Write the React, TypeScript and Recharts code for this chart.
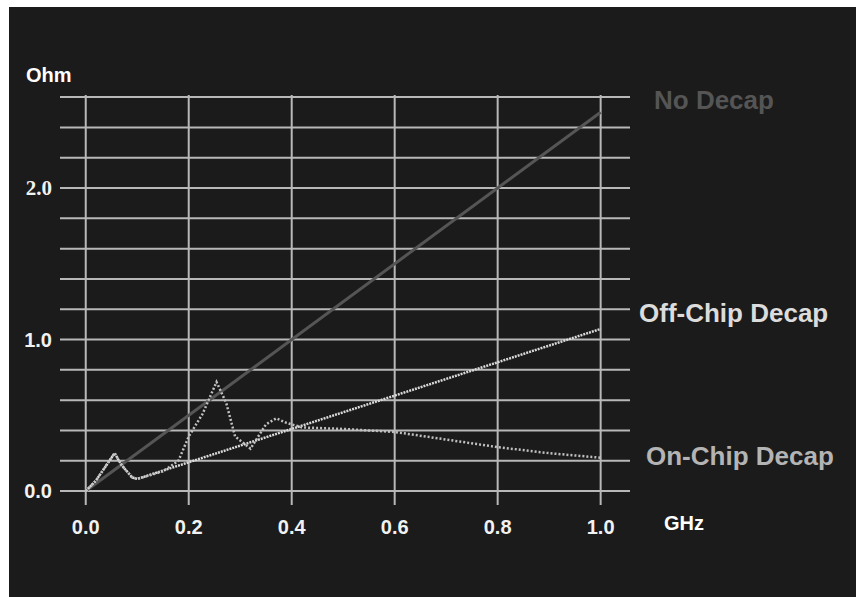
import React from 'react';
import { LineChart, Line, XAxis, YAxis, ReferenceLine } from 'recharts';

// Frequency (GHz) / impedance (Ohm) readings
const noDecapX = [0, 1.0];
const noDecapY = [0, 2.5];

const offChipX = [0, 0.02, 0.04, 0.056, 0.07, 0.09, 0.1, 0.2, 0.4, 0.6, 0.8, 1.0];
const offChipY = [0, 0.07, 0.17, 0.25, 0.17, 0.09, 0.08, 0.19, 0.41, 0.63, 0.85, 1.07];

const onChipX = [0, 0.02, 0.04, 0.056, 0.07, 0.09, 0.1, 0.15, 0.18, 0.2, 0.227, 0.254, 0.273, 0.29, 0.32, 0.35, 0.37, 0.39, 0.42, 0.5, 0.6, 0.7, 0.8, 0.9, 1.0];
const onChipY = [0, 0.07, 0.17, 0.25, 0.17, 0.09, 0.08, 0.13, 0.2, 0.36, 0.51, 0.72, 0.58, 0.36, 0.28, 0.44, 0.48, 0.45, 0.42, 0.41, 0.39, 0.34, 0.29, 0.25, 0.22];

const xTicks = [0, 0.2, 0.4, 0.6, 0.8, 1.0];
const xTickLabels = ['0.0', '0.2', '0.4', '0.6', '0.8', '1.0'];
const yTicks = [0, 0.2, 0.4, 0.6, 0.8, 1.0, 1.2, 1.4, 1.6, 1.8, 2.0, 2.2, 2.4, 2.6];
const yLabelValues = [0, 1, 2];
const yLabelTexts = ['0.0', '1.0', '2.0'];

const seriesNames = ['No Decap', 'Off-Chip Decap', 'On-Chip Decap'];

const toRows = (xs: number[], ys: number[]) => xs.map((x, i) => ({ x, y: ys[i] }));

const noDecapData = toRows(noDecapX, noDecapY);
const offChipData = toRows(offChipX, offChipY);
const onChipData = toRows(onChipX, onChipY);

const SANS = '"Liberation Sans", Arial, Helvetica, sans-serif';
const SERIF = '"Liberation Serif", "Times New Roman", serif';
const GRID = '#b8b8b8';

const XTick = (props: any) => {
  const { x, y, payload } = props;
  const idx = xTicks.findIndex((t) => Math.abs(t - payload.value) < 1e-6);
  return (
    <text x={x} y={y} dy="0.35em" textAnchor="middle" fill="#f2f2f2" fontFamily={SANS} fontWeight="bold" fontSize={20}>
      {idx >= 0 ? xTickLabels[idx] : ''}
    </text>
  );
};

const YTick = (props: any) => {
  const { x, y, payload } = props;
  const idx = yLabelValues.findIndex((t) => Math.abs(t - payload.value) < 1e-6);
  if (idx < 0) return <g />;
  const serif = yLabelValues[idx] === 2;
  return (
    <text x={x} y={y} dy="0.35em" textAnchor="end" fill="#f2f2f2" fontFamily={serif ? SERIF : SANS} fontWeight="bold" fontSize={serif ? 21 : 20}>
      {yLabelTexts[idx]}
    </text>
  );
};

export default function App() {
  return (
    <div style={{ position: 'absolute', left: 9, top: 7, width: 847, height: 590, background: '#1b1b1b' }}>
      <LineChart width={847} height={590} margin={{ top: 88, right: 226, bottom: 52, left: 0 }}>
        <XAxis
          type="number"
          dataKey="x"
          domain={[-0.05, 1.057]}
          ticks={xTicks}
          interval={0}
          allowDataOverflow
          axisLine={false}
          tickLine={false}
          tickSize={0}
          tickMargin={22}
          height={40}
          tick={<XTick />}
        />
        <YAxis
          type="number"
          domain={[-0.092, 2.614]}
          ticks={yTicks}
          interval={0}
          allowDataOverflow
          axisLine={false}
          tickLine={false}
          tickSize={0}
          tickMargin={8}
          width={51}
          tick={<YTick />}
        />
        {yTicks.map((t) => (
          <ReferenceLine key={'h' + t} y={t} stroke={GRID} strokeWidth={2} />
        ))}
        {xTicks.map((t) => (
          <ReferenceLine key={'v' + t} x={t} stroke={GRID} strokeWidth={2} />
        ))}
        <Line data={noDecapData} dataKey="y" name={seriesNames[0]} type="linear" stroke="#555555" strokeWidth={3} dot={false} isAnimationActive={false} />
        <Line data={offChipData} dataKey="y" name={seriesNames[1]} type="linear" stroke="#dadada" strokeWidth={2.5} strokeDasharray="2 1" dot={false} isAnimationActive={false} />
        <Line data={onChipData} dataKey="y" name={seriesNames[2]} type="linear" stroke="#c0c0c0" strokeWidth={2.5} strokeDasharray="2 2" dot={false} isAnimationActive={false} />
      </LineChart>
      <svg width={847} height={590} style={{ position: 'absolute', left: 0, top: 0, pointerEvents: 'none' }}>
        <text x={17} y={75} fill="#ffffff" fontFamily={SANS} fontWeight="bold" fontSize={20}>Ohm</text>
        <text x={655} y={523} fill="#ffffff" fontFamily={SANS} fontWeight="bold" fontSize={20}>GHz</text>
        <text x={645} y={102} fill="#555555" fontFamily={SANS} fontWeight="bold" fontSize={26}>{seriesNames[0]}</text>
        <text x={630} y={315} fill="#dcdcdc" fontFamily={SANS} fontWeight="bold" fontSize={26}>{seriesNames[1]}</text>
        <text x={637} y={458} fill="#b4b4b4" fontFamily={SANS} fontWeight="bold" fontSize={26}>{seriesNames[2]}</text>
      </svg>
    </div>
  );
}
